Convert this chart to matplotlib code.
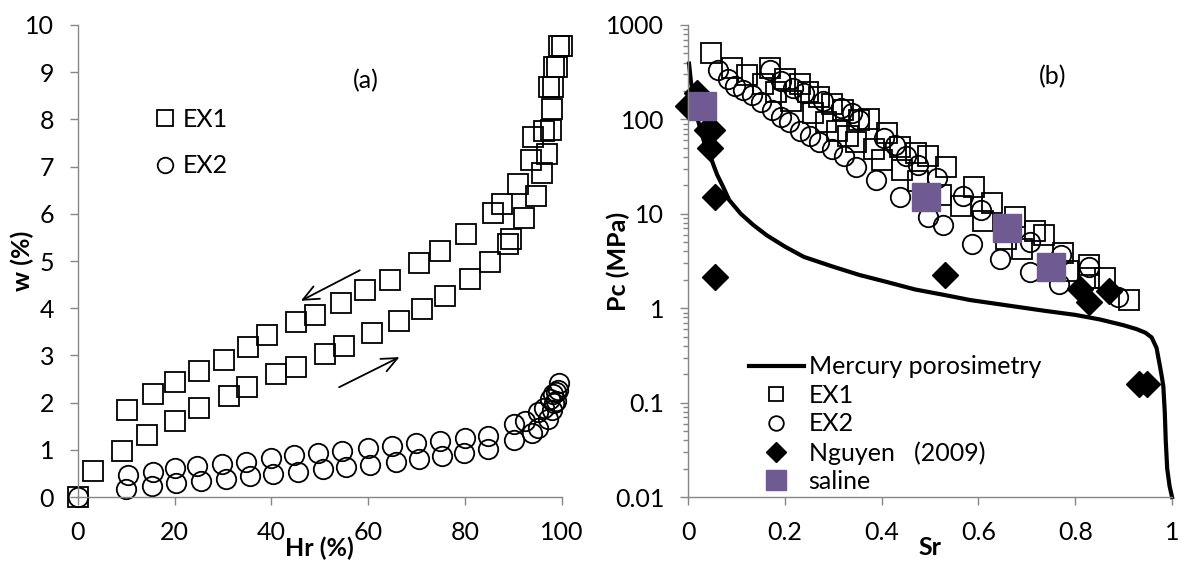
import matplotlib
matplotlib.use('Agg')
import matplotlib.pyplot as plt
from matplotlib.ticker import LogLocator, NullFormatter

plt.rcParams['font.family'] = ['Lato', 'DejaVu Sans']
plt.rcParams['font.size'] = 18

# ---- panel (a): water content vs relative humidity ----
# EX1 wetting branch
ex1_ads_hr = [0, 3.2, 9.1, 14.3, 20.0, 25.1, 31.2, 34.9, 40.9, 45.2, 51.1, 55.1, 60.8,
              66.3, 71.1, 75.8, 81.0, 85.1, 88.9, 89.5, 92.2, 94.6, 95.9, 97.0, 97.8, 98.0, 98.4]
ex1_ads_w = [0, 0.55, 0.98, 1.31, 1.62, 1.88, 2.15, 2.34, 2.61, 2.76, 3.03, 3.20, 3.48,
             3.73, 3.99, 4.25, 4.61, 4.97, 5.37, 5.47, 5.92, 6.38, 6.86, 7.27, 7.77, 8.23, 9.12]
# EX1 drying branch
ex1_des_hr = [100, 99.4, 99.0, 98.3, 97.4, 96.4, 94.1, 93.7, 91.0, 87.6, 85.9, 80.2, 74.9,
              70.5, 64.5, 59.3, 54.3, 49.1, 45.1, 39.1, 35.2, 30.3, 25.0, 20.0, 15.6, 10.2]
ex1_des_w = [9.56, 9.56, 9.12, 8.69, 8.69, 7.75, 7.62, 7.13, 6.63, 6.21, 6.02, 5.58, 5.22,
             4.95, 4.60, 4.38, 4.12, 3.86, 3.71, 3.43, 3.18, 2.91, 2.67, 2.43, 2.19, 1.84]

# EX2 wetting branch
ex2_ads_hr = [0, 10.0, 15.4, 20.3, 25.5, 30.6, 35.5, 40.3, 45.6, 50.6, 55.4, 60.3, 65.8,
              70.6, 75.2, 79.9, 84.8, 90.1, 93.9, 95.2, 97.2, 98.0, 98.4, 98.8]
ex2_ads_w = [0, 0.18, 0.23, 0.29, 0.34, 0.39, 0.44, 0.49, 0.54, 0.59, 0.63, 0.68, 0.75,
             0.80, 0.86, 0.93, 1.01, 1.20, 1.35, 1.46, 1.65, 1.84, 1.99, 2.04]
# EX2 drying branch
ex2_des_hr = [99.4, 99.2, 98.8, 98.3, 97.5, 96.4, 95.2, 92.5, 90.1, 84.8, 80.1, 74.9, 70.0,
              65.0, 59.9, 54.6, 49.6, 44.7, 39.9, 34.7, 29.8, 24.7, 20.2, 15.6, 10.4]
ex2_des_w = [2.42, 2.26, 2.23, 2.19, 2.07, 1.88, 1.81, 1.62, 1.54, 1.30, 1.26, 1.19, 1.15,
             1.09, 1.04, 0.98, 0.93, 0.88, 0.82, 0.75, 0.70, 0.66, 0.61, 0.54, 0.46]

# ---- panel (b): capillary pressure vs saturation ----
hg_sr = [0.002, 0.006, 0.011, 0.02, 0.033, 0.048, 0.06, 0.071, 0.085, 0.109, 0.135, 0.163,
         0.2, 0.239, 0.3, 0.354, 0.41, 0.469, 0.53, 0.583, 0.66, 0.736, 0.8, 0.851, 0.9,
         0.927, 0.945, 0.958, 0.968, 0.974, 0.978, 0.982, 0.985, 0.987, 0.99, 0.995, 1.0]
hg_pc = [390, 250, 175, 100, 58, 38, 26, 20, 14, 10, 7.6, 5.9,
         4.5, 3.5, 2.75, 2.25, 1.9, 1.58, 1.38, 1.22, 1.07, 0.94, 0.85, 0.76, 0.66,
         0.6, 0.55, 0.49, 0.38, 0.26, 0.2, 0.15, 0.08, 0.04, 0.02, 0.013, 0.01]

ex1_sr = [0.048, 0.090, 0.121, 0.155, 0.170, 0.182, 0.201, 0.213, 0.232, 0.247, 0.258, 0.270,
          0.285, 0.297, 0.320, 0.308, 0.331, 0.346, 0.354, 0.373, 0.385, 0.411, 0.400, 0.438,
          0.442, 0.472, 0.495, 0.476, 0.522, 0.534, 0.564, 0.591, 0.610, 0.629, 0.656, 0.675,
          0.690, 0.717, 0.736, 0.759, 0.774, 0.786, 0.828, 0.828, 0.862, 0.912]
ex1_pc = [509, 349, 293, 236, 349, 197, 268, 158, 236, 197, 117, 173,
          94, 145, 127, 75, 66, 58, 98, 102, 49, 72, 37, 51,
          29, 44, 41, 22, 16, 31, 12, 19, 8.4, 13, 5.4, 9.2,
          4.2, 6.5, 5.9, 2.7, 3.8, 2.5, 2.9, 2.1, 2.1, 1.22]

ex2_sr = [0.062, 0.083, 0.098, 0.113, 0.132, 0.151, 0.170, 0.174, 0.193, 0.193, 0.209, 0.216,
          0.232, 0.239, 0.251, 0.270, 0.278, 0.297, 0.316, 0.323, 0.339, 0.346, 0.354, 0.388,
          0.404, 0.427, 0.437, 0.450, 0.476, 0.495, 0.515, 0.526, 0.568, 0.587, 0.606, 0.645,
          0.706, 0.706, 0.771, 0.767, 0.828, 0.889]
ex2_pc = [334, 268, 225, 206, 181, 152, 334, 127, 257, 107, 94, 216,
          75, 189, 66, 58, 158, 49, 133, 41, 117, 31, 98, 23,
          63, 53, 15, 41, 33, 9.2, 24, 7.7, 15.5, 4.8, 10.9, 3.3,
          5.0, 2.4, 3.7, 1.8, 2.7, 1.33]

nguyen_sr = [0.0, 0.019, 0.04, 0.05, 0.045, 0.056, 0.056, 0.530, 0.809, 0.828, 0.870, 0.931, 0.949]
nguyen_pc = [140, 190, 78, 77, 50, 15, 2.16, 2.25, 1.58, 1.17, 1.52, 0.156, 0.156]

saline_sr = [0.029, 0.492, 0.660, 0.750]
saline_pc = [139, 14.9, 7.0, 2.7]

y_ticks_b = [0.01, 0.1, 1, 10, 100, 1000]
y_labels_b = ['0.01', '0.1', '1', '10', '100', '1000']
x_ticks_b = [0, 0.2, 0.4, 0.6, 0.8, 1]
x_labels_b = ['0', '0.2', '0.4', '0.6', '0.8', '1']

GREY = '#868686'
PURPLE = '#6F5A91'
mk = dict(linestyle='none', markerfacecolor='none', markeredgecolor='black',
          markeredgewidth=1.3, clip_on=False)


def style(ax):
    for s in ['top', 'right']:
        ax.spines[s].set_visible(False)
    for s in ['left', 'bottom']:
        ax.spines[s].set_color(GREY)
        ax.spines[s].set_linewidth(1.0)
    ax.tick_params(which='major', direction='out', length=6, width=1.0, color=GREY)
    ax.tick_params(axis='y', which='major', pad=11)
    ax.tick_params(axis='x', which='major', pad=11)
    ax.tick_params(which='minor', direction='out', length=3.5, width=1.0, color=GREY)


fig = plt.figure(figsize=(11.81, 5.63), dpi=100)
ax1 = fig.add_axes([0.0658, 0.1172, 0.4098, 0.8384])
ax2 = fig.add_axes([0.5826, 0.1172, 0.4098, 0.8384])

# panel (a)
h1, = ax1.plot(ex1_ads_hr, ex1_ads_w, marker='s', markersize=14, **mk)
ax1.plot(ex1_des_hr, ex1_des_w, marker='s', markersize=14, **mk)
h2, = ax1.plot(ex2_ads_hr, ex2_ads_w, marker='o', markersize=14, **mk)
ax1.plot(ex2_des_hr, ex2_des_w, marker='o', markersize=14, **mk)
ax1.annotate('', xy=(45.6, 4.13), xytext=(58.8, 4.83),
             arrowprops=dict(arrowstyle='->,head_length=0.45,head_width=0.2',
                             lw=1.3, color='black', mutation_scale=25))
ax1.annotate('', xy=(67.0, 2.99), xytext=(53.5, 2.30),
             arrowprops=dict(arrowstyle='->,head_length=0.45,head_width=0.2',
                             lw=1.3, color='black', mutation_scale=25))
ax1.set_xlim(0, 100)
ax1.set_ylim(0, 10)
ax1.set_xticks(range(0, 101, 20))
ax1.set_yticks(range(0, 11))
style(ax1)
ax1.set_xlabel('Hr (%)', fontweight='bold')
ax1.set_ylabel('w (%)', fontweight='bold')
ax1.xaxis.set_label_coords(0.5, -0.083)
ax1.yaxis.set_label_coords(-0.09, 0.5)
ax1.text(0.596, 0.883, '(a)', transform=ax1.transAxes, ha='center', va='center')
ax1.legend([h1, h2], ['EX1', 'EX2'], loc='upper left', bbox_to_anchor=(0.16, 0.825),
           frameon=False, handlelength=0.8, handletextpad=0.3, labelspacing=0.95,
           markerscale=0.8, borderpad=0, borderaxespad=0)

# panel (b)
ax2.plot(hg_sr, hg_pc, color='black', lw=3, label='Mercury porosimetry', clip_on=False)
ax2.plot(ex1_sr, ex1_pc, marker='s', markersize=14, label='EX1', **mk)
ax2.plot(ex2_sr, ex2_pc, marker='o', markersize=14, label='EX2', **mk)
ax2.plot(nguyen_sr, nguyen_pc, linestyle='none', marker='D', markersize=13,
         color='black', label='Nguyen   (2009)', clip_on=False)
ax2.plot(saline_sr, saline_pc, linestyle='none', marker='s', markersize=20,
         color=PURPLE, label='saline', clip_on=False)
ax2.set_yscale('log')
ax2.set_xlim(0, 1)
ax2.set_ylim(0.01, 1000)
ax2.set_yticks(y_ticks_b)
ax2.set_yticklabels(y_labels_b)
ax2.yaxis.set_minor_locator(LogLocator(base=10, subs=range(2, 10)))
ax2.yaxis.set_minor_formatter(NullFormatter())
ax2.set_xticks(x_ticks_b)
ax2.set_xticklabels(x_labels_b)
style(ax2)
ax2.set_xlabel('Sr', fontweight='bold')
ax2.set_ylabel('Pc (MPa)', fontweight='bold')
ax2.xaxis.set_label_coords(0.5, -0.083)
ax2.yaxis.set_label_coords(-0.12, 0.5)
ax2.text(0.753, 0.891, '(b)', transform=ax2.transAxes, ha='center', va='center')
ax2.legend(loc='upper left', bbox_to_anchor=(0.125, 0.30), frameon=False,
           handlelength=2.2, handletextpad=0.2, labelspacing=0.22,
           markerscale=0.75, borderpad=0, borderaxespad=0)

fig.savefig('out.png', dpi=100)
